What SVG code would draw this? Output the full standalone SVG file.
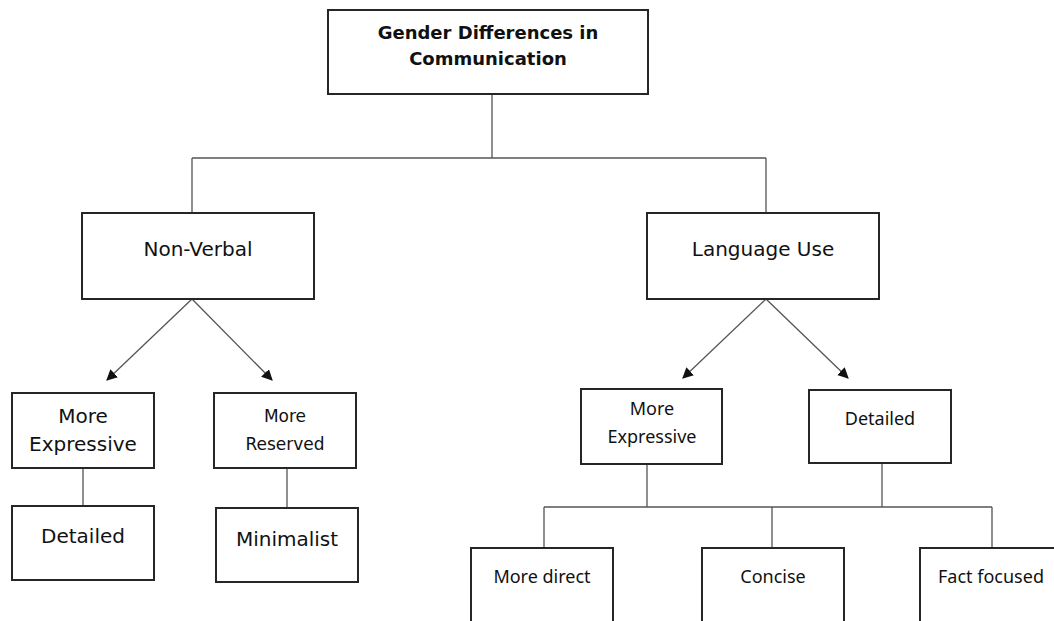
<svg xmlns="http://www.w3.org/2000/svg" width="1054" height="621" viewBox="0 0 1054 621">
<style>
.box{fill:#fff;stroke:#262626;stroke-width:2}
.ln{fill:none;stroke:#555;stroke-width:1.3}
.t1{font-family:"DejaVu Sans",Verdana,sans-serif;font-size:18px;font-weight:bold;fill:#111;text-anchor:middle}
.t2{font-family:"DejaVu Sans",Verdana,sans-serif;font-size:20px;fill:#111;text-anchor:middle}
.t4{font-family:"DejaVu Sans",Verdana,sans-serif;font-size:17px;fill:#111;text-anchor:middle}
.t3{font-family:"Noto Sans",Roboto,sans-serif;font-size:18px;fill:#111;text-anchor:middle}
</style>
<defs>
<marker id="ah" viewBox="0 0 10 10" refX="9" refY="5" markerWidth="11" markerHeight="11" markerUnits="userSpaceOnUse" orient="auto">
<path d="M0,0 L10,5 L0,10 z" fill="#111"/>
</marker>
</defs>
<rect width="1054" height="621" fill="#fff"/>
<g id="connectors">
<path class="ln" d="M492,94 V158 M192,158 H766 M192,158 V213 M766,158 V213"/>
<line class="ln" x1="192" y1="299" x2="107" y2="380" marker-end="url(#ah)"/>
<line class="ln" x1="192" y1="299" x2="272" y2="380" marker-end="url(#ah)"/>
<line class="ln" x1="766" y1="299" x2="683" y2="378" marker-end="url(#ah)"/>
<line class="ln" x1="766" y1="299" x2="848" y2="378" marker-end="url(#ah)"/>
<path class="ln" d="M83,468 V506 M287,468 V508"/>
<path class="ln" d="M647,464 V507 M882,463 V507 M544,507 H992 M544,507 V548 M772,507 V548 M992,507 V548"/>
</g>
<g id="root"><rect class="box" x="328" y="10" width="320" height="84"/>
<text class="t1" x="488" y="39">Gender Differences in</text>
<text class="t1" x="488" y="65">Communication</text></g>
<g id="nonverbal"><rect class="box" x="82" y="213" width="232" height="86"/>
<text class="t2" x="198" y="256">Non-Verbal</text></g>
<g id="language"><rect class="box" x="647" y="213" width="232" height="86"/>
<text class="t2" x="763" y="256">Language Use</text></g>
<g id="nv-expressive"><rect class="box" x="12" y="393" width="142" height="75"/>
<text class="t2" x="83" y="423">More</text>
<text class="t2" x="83" y="451">Expressive</text></g>
<g id="nv-reserved"><rect class="box" x="214" y="393" width="142" height="75"/>
<text class="t4" x="285" y="422">More</text>
<text class="t4" x="285" y="450">Reserved</text></g>
<g id="nv-detailed"><rect class="box" x="12" y="506" width="142" height="74"/>
<text class="t2" x="83" y="543">Detailed</text></g>
<g id="nv-minimalist"><rect class="box" x="216" y="508" width="142" height="74"/>
<text class="t2" x="287" y="546">Minimalist</text></g>
<g id="lu-expressive"><rect class="box" x="581" y="389" width="141" height="75"/>
<text class="t3" x="652" y="415">More</text>
<text class="t3" x="652" y="443">Expressive</text></g>
<g id="lu-detailed"><rect class="box" x="809" y="390" width="142" height="73"/>
<text class="t3" x="880" y="425">Detailed</text></g>
<g id="direct"><rect class="box" x="471" y="548" width="142" height="85"/>
<text class="t3" x="542" y="583">More direct</text></g>
<g id="concise"><rect class="box" x="702" y="548" width="142" height="85"/>
<text class="t3" x="773" y="583">Concise</text></g>
<g id="fact"><rect class="box" x="920" y="548" width="150" height="85"/>
<text class="t3" x="991" y="583">Fact focused</text></g>
</svg>
